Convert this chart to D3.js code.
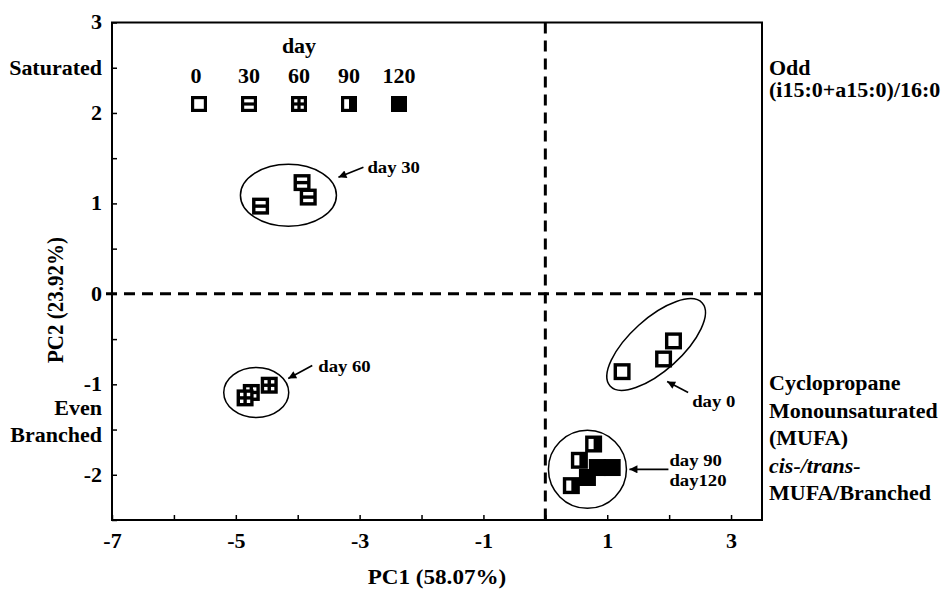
<!DOCTYPE html>
<html>
<head>
<meta charset="utf-8">
<script src="https://cdn.jsdelivr.net/npm/d3@7"></script>
<style>
  html, body { margin: 0; padding: 0; background: #fff; }
  svg text { font-family: "Liberation Serif", "Times New Roman", serif; font-weight: bold; fill: #000; }
</style>
</head>
<body>
<svg id="chart" width="946" height="591"></svg>
<script>
// Sampling days and PCA scores (PC1, PC2), three replicates per day
const days = [0, 30, 60, 90, 120];
const day0PC1 = [1.24, 1.91, 2.07];
const day0PC2 = [-0.86, -0.72, -0.52];
const day30PC1 = [-4.60, -3.93, -3.83];
const day30PC2 = [0.97, 1.23, 1.07];
const day60PC1 = [-4.46, -4.75, -4.85];
const day60PC2 = [-1.01, -1.09, -1.15];
const day90PC1 = [0.78, 0.55, 0.42];
const day90PC2 = [-1.66, -1.84, -2.12];
const day120PC1 = [0.84, 1.08, 0.68];
const day120PC2 = [-1.92, -1.92, -2.03];

// Axis ticks and labels
const xTickValues = [-7, -6, -5, -4, -3, -2, -1, 0, 1, 2, 3];
const xLabelValues = [-7, -5, -3, -1, 1, 3];
const yTickValues = [-2.5, -2, -1.5, -1, -0.5, 0, 0.5, 1, 1.5, 2, 2.5, 3];
const yLabelValues = [-2, -1, 0, 1, 2, 3];
const xTitle = "PC1 (58.07%)";
const yTitle = "PC2 (23.92%)";

// Cluster outlines (centres in PC units) and their labels
const clusterNames = ["day 30", "day 60", "day 0", "day 90/120"];
const clusterPC1 = [-4.15, -4.67, 1.79, 0.68];
const clusterPC2 = [1.09, -1.09, -0.56, -1.94];
const clusterText = [["day 30"], ["day 60"], ["day 0"], ["day 90", "day120"]];

// Loading descriptions for each quadrant
const leftTopText = ["Saturated"];
const leftBottomText = ["Even", "Branched"];
const rightTopText = ["Odd", "(i15:0+a15:0)/16:0"];
const rightBottomText = ["Cyclopropane", "Monounsaturated", "(MUFA)", "cis-/trans-", "MUFA/Branched"];

const series = [
  { day: 0,   pc1: day0PC1,   pc2: day0PC2 },
  { day: 30,  pc1: day30PC1,  pc2: day30PC2 },
  { day: 60,  pc1: day60PC1,  pc2: day60PC2 },
  { day: 90,  pc1: day90PC1,  pc2: day90PC2 },
  { day: 120, pc1: day120PC1, pc2: day120PC2 }
];

const svg = d3.select("#chart");
const plot = { left: 112, right: 762, top: 22.5, bottom: 520 };
const SX = 1.1;               // horizontal stretch of the lettering
const FONT = '"Liberation Serif", "Times New Roman", serif';

const x = d3.scaleLinear().domain([-7, 3.5]).range([plot.left, plot.right]);
const y = d3.scaleLinear().domain([-2.5, 3]).range([plot.bottom, plot.top]);

function label(g, px, py, s, size, anchor, italic) {
  const t = g.append("text")
    .attr("transform", `translate(${px},${py}) scale(${SX},1)`)
    .attr("font-size", size)
    .attr("text-anchor", anchor || "start")
    .text(s);
  if (italic) t.style("font-style", "italic");
  return t;
}

// arrow head
svg.append("defs").append("marker")
  .attr("id", "head")
  .attr("viewBox", "0 -5 10 10")
  .attr("refX", 10).attr("refY", 0)
  .attr("markerWidth", 11).attr("markerHeight", 8)
  .attr("markerUnits", "userSpaceOnUse")
  .attr("orient", "auto")
  .append("path").attr("d", "M0,-5L10,0L0,5Z").attr("fill", "#000");

// axes with inward ticks
const fmt = d => String(d);
const xAxis = d3.axisBottom(x).tickValues(xTickValues)
  .tickSizeInner(-5).tickSizeOuter(0).tickPadding(14)
  .tickFormat(d => xLabelValues.includes(d) ? fmt(d) : "");
const yAxis = d3.axisLeft(y).tickValues(yTickValues)
  .tickSizeInner(-5).tickSizeOuter(0).tickPadding(9)
  .tickFormat(d => yLabelValues.includes(d) ? fmt(d) : "");

const gx = svg.append("g").attr("transform", `translate(0,${plot.bottom})`).call(xAxis);
const gy = svg.append("g").attr("transform", `translate(${plot.left},0)`).call(yAxis);
[gx, gy].forEach(g => {
  g.select(".domain").remove();
  g.selectAll(".tick line").attr("stroke", "#000").attr("stroke-width", 1.5);
  g.selectAll(".tick text").attr("font-size", 20)
    .attr("transform", `scale(${SX},1)`)
    .style("font-family", FONT)
    .style("font-weight", "bold").attr("fill", "#000");
});

// zero reference lines
svg.append("line")
  .attr("x1", x(-7) - 6).attr("x2", x(3.5))
  .attr("y1", y(0)).attr("y2", y(0))
  .attr("stroke", "#000").attr("stroke-width", 3).attr("stroke-dasharray", "11,7");
svg.append("line")
  .attr("x1", x(0)).attr("x2", x(0))
  .attr("y1", y(3)).attr("y2", y(-2.5))
  .attr("stroke", "#000").attr("stroke-width", 3).attr("stroke-dasharray", "11,7");

// plot frame
svg.append("rect")
  .attr("x", plot.left).attr("y", plot.top)
  .attr("width", plot.right - plot.left).attr("height", plot.bottom - plot.top)
  .attr("fill", "none").attr("stroke", "#000").attr("stroke-width", 2);

// square markers: the white openings encode the sampling day
function holes(day, s) {
  const b = s * 0.2;
  const h = (s - 3 * b) / 2;
  switch (day) {
    case 0:  return [[b, b, s - 2 * b, s - 2 * b]];
    case 30: return [[b, b, s - 2 * b, h], [b, s - b - h, s - 2 * b, h]];
    case 60: return [[b, b, h, h], [s - b - h, b, h, h], [b, s - b - h, h, h], [s - b - h, s - b - h, h, h]];
    case 90: return [[b, b, s / 2 - b, s - 2 * b]];
    default: return [];
  }
}
function marker(g, cx, cy, day, s) {
  const m = g.append("g").attr("transform", `translate(${cx - s / 2},${cy - s / 2})`);
  m.append("rect").attr("width", s).attr("height", s).attr("fill", "#000");
  holes(day, s).forEach(r => {
    m.append("rect").attr("x", r[0]).attr("y", r[1]).attr("width", r[2]).attr("height", r[3]).attr("fill", "#fff");
  });
}

// cluster outlines
const outline = svg.append("g").attr("fill", "none").attr("stroke", "#000").attr("stroke-width", 1.5);
const ellipseShape = [
  { rx: 48, ry: 31, rot: 0 },
  { rx: 32.5, ry: 25, rot: 0 },
  { rx: 62, ry: 26, rot: -42 },
  { rx: 39, ry: 39, rot: 0 }
];
clusterNames.forEach((n, i) => {
  const cx = x(clusterPC1[i]), cy = y(clusterPC2[i]);
  outline.append("ellipse")
    .attr("cx", 0).attr("cy", 0)
    .attr("rx", ellipseShape[i].rx).attr("ry", ellipseShape[i].ry)
    .attr("transform", `translate(${cx},${cy}) rotate(${ellipseShape[i].rot})`);
});

// data points
const pts = svg.append("g");
series.forEach(sr => {
  sr.pc1.forEach((v, i) => marker(pts, x(v), y(sr.pc2[i]), sr.day, 17));
});

// cluster labels with arrows (offsets from the outline centre, px)
const callout = [
  { tail: [75, -28], tip: [50, -18], text: [79, -22] },
  { tail: [56, -27], tip: [32, -14], text: [62, -20] },
  { tail: [32, 48],  tip: [11, 37],  text: [36, 62] },
  { tail: [81, 0],   tip: [42, 0],   text: [82, -3] }
];
clusterNames.forEach((n, i) => {
  const cx = x(clusterPC1[i]), cy = y(clusterPC2[i]);
  const c = callout[i];
  svg.append("line")
    .attr("x1", cx + c.tail[0]).attr("y1", cy + c.tail[1])
    .attr("x2", cx + c.tip[0]).attr("y2", cy + c.tip[1])
    .attr("stroke", "#000").attr("stroke-width", 1.6)
    .attr("marker-end", "url(#head)");
  clusterText[i].forEach((line, k) => {
    label(svg, cx + c.text[0], cy + c.text[1] + k * 20, line, 17, "start");
  });
});

// legend
const legend = svg.append("g");
const legX0 = plot.left + 87, legStep = 50;
label(legend, legX0 + 2 * legStep, 53, "day", 20, "middle");
days.forEach((d, i) => {
  label(legend, legX0 + i * legStep - (d === 0 ? 3 : 0), 83, String(d), 20, "middle");
  marker(legend, legX0 + i * legStep, 104, d, 16);
});

// quadrant descriptions
function block(lines, px, y0, anchor, step) {
  lines.forEach((line, k) => label(svg, px, y0 + k * step, line, 20, anchor, line.startsWith("cis")));
}
block(leftTopText, 102, 75, "end", 27);
block(leftBottomText, 102, 415, "end", 27);
block(rightTopText, 769, 75, "start", 22);
block(rightBottomText, 769, 390, "start", 27.5);

// axis titles
label(svg, (plot.left + plot.right) / 2, 584, xTitle, 21, "middle");
svg.append("text").attr("font-size", 21).attr("text-anchor", "middle")
  .attr("transform", `translate(63,300) rotate(-90) scale(1,${SX})`).text(yTitle);
</script>
</body>
</html>
